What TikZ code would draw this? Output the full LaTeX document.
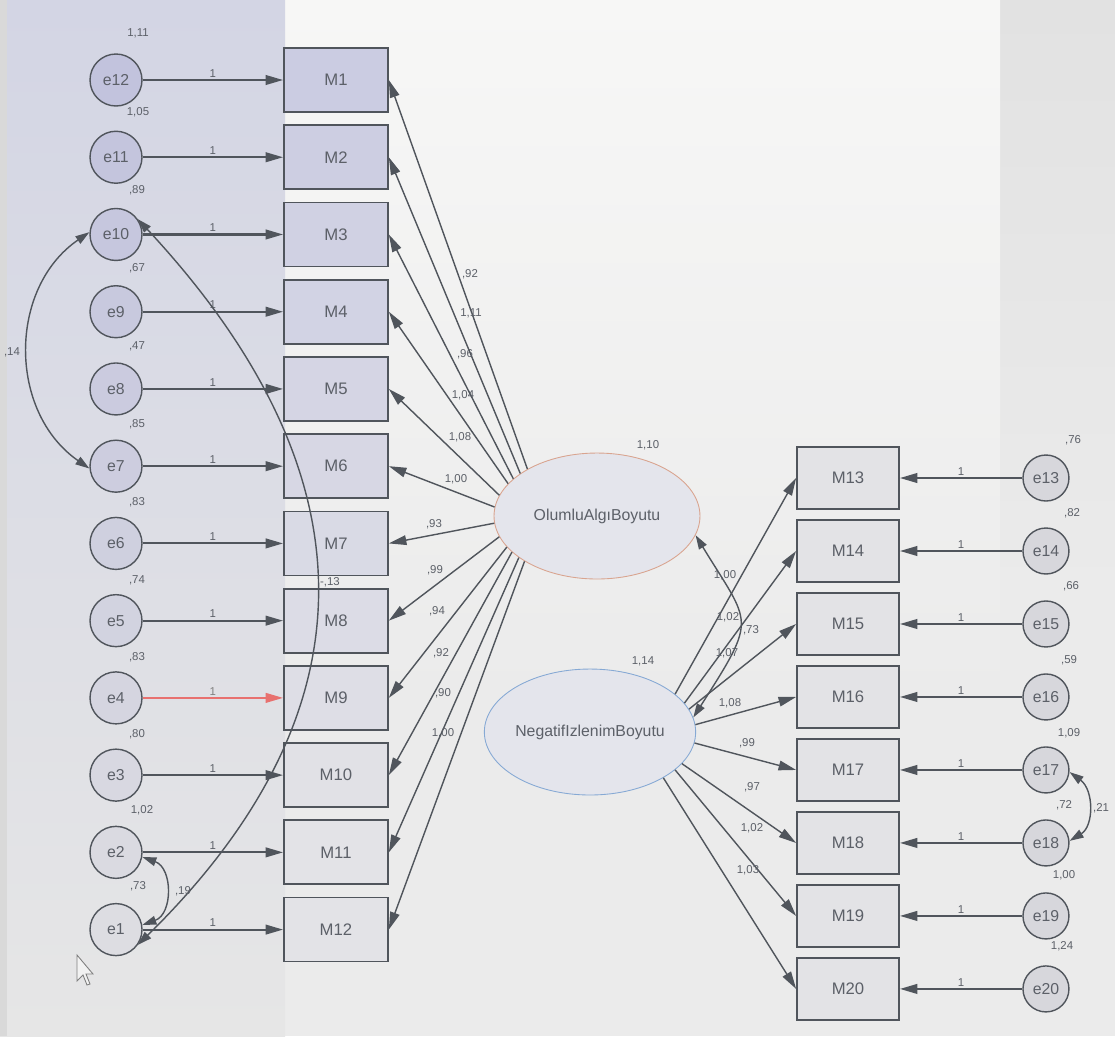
\documentclass[tikz,border=0pt]{standalone}
\usepackage{fontspec}
\setmainfont{Liberation Sans}
\usetikzlibrary{positioning}
\usetikzlibrary{arrows.meta}
\usetikzlibrary{shapes.geometric}
\definecolor{linegray}{HTML}{50555C}
\definecolor{txtgray}{HTML}{5C6068}
\definecolor{lav}{HTML}{C2C3DD}
\definecolor{pale}{HTML}{DDDDE2}
\definecolor{boxtop}{HTML}{CBCCE2}
\definecolor{boxbot}{HTML}{E3E3E7}
\definecolor{rfill}{HTML}{D7D7DC}
\definecolor{rbox}{HTML}{E3E3E6}
\definecolor{latfill}{HTML}{E4E5EC}
\definecolor{olborder}{HTML}{D9A48F}
\definecolor{negborder}{HTML}{86A9D4}
\definecolor{redline}{HTML}{E8716F}
\definecolor{bgbase}{HTML}{EBEBEB}
\definecolor{lefttop}{HTML}{D3D5E4}
\definecolor{leftbot}{HTML}{E6E6E6}
\definecolor{midtop}{HTML}{F7F7F6}
\definecolor{righttop}{HTML}{E2E2E2}
\tikzset {
  node distance={1.545cm},
  % error terms
  err/.style = {draw=linegray, line width=0.8pt, circle, minimum size=1.04cm, inner sep=0pt,
    fill=lav!#1!pale, font=\fontsize{9}{10}\selectfont},
  err/.default = 40,
  rerr/.style = {draw=linegray, line width=0.8pt, circle, minimum size=0.92cm, inner sep=0pt,
    fill=rfill, font=\fontsize{9}{10}\selectfont},
  % observed items
  obs/.style = {draw=linegray, line width=1pt, minimum width=2.08cm, minimum height=1.28cm,
    fill=boxtop!#1!boxbot, font=\fontsize{9.5}{11}\selectfont},
  obs/.default = 40,
  robs/.style = {draw=linegray, line width=1pt, minimum width=2.04cm, minimum height=1.24cm,
    fill=rbox, font=\fontsize{9.5}{11}\selectfont},
  % latent factors
  lat/.style = {ellipse, line width=0.5pt, fill=latfill, minimum width=4.12cm, minimum height=2.52cm,
    inner sep=0pt, font=\fontsize{9}{10}\selectfont},
  % estimates
  lbl/.style = {font=\fontsize{6.5}{7}\selectfont, inner sep=1pt},
  % paths
  fix/.style = {draw=linegray, line width=1.2pt, -{Triangle[length=10pt,width=5.5pt]}},
  load/.style = {draw=linegray, line width=0.8pt, -{Triangle[length=10pt,width=5.5pt]}},
  cov/.style = {draw=linegray, line width=0.8pt, {Triangle[length=8pt,width=5pt]}-{Triangle[length=8pt,width=5pt]}},
}
\begin{document}
\begin{tikzpicture}[x=0.02cm, y=-0.02cm, text=txtgray]
  \useasboundingbox (0,0) rectangle (1115,1036);
  % screen background
  \fill[bgbase] (0,0) rectangle (1115,1036);
  \shade[top color=righttop, bottom color=bgbase] (1000,0) rectangle (1115,600);
  \shade[top color=midtop, bottom color=bgbase] (285,0) rectangle (1000,700);
  \shade[top color=lefttop, bottom color=leftbot] (0,0) rectangle (285,1036);
  \fill[gray!30] (0,0) rectangle (7,1036);

  % left side
  \node[err=100] (e12) at (116,80) {e12};
  \node[err=92] (e11) [below of=e12] {e11};
  \node[err=84] (e10) [below of=e11] {e10};
  \node[err=76] (e9) [below of=e10] {e9};
  \node[err=68] (e8) [below of=e9] {e8};
  \node[err=60] (e7) [below of=e8] {e7};
  \node[err=50] (e6) [below of=e7] {e6};
  \node[err=40] (e5) [below of=e6] {e5};
  \node[err=30] (e4) [below of=e5] {e4};
  \node[err=20] (e3) [below of=e4] {e3};
  \node[err=10] (e2) [below of=e3] {e2};
  \node[err=0] (e1) [below of=e2] {e1};

  \node[obs=100] (m1) [right of=e12, node distance=4.4cm] {M1};
  \node[obs=90] (m2) [right of=e11, node distance=4.4cm] {M2};
  \node[obs=80] (m3) [right of=e10, node distance=4.4cm] {M3};
  \node[obs=70] (m4) [right of=e9, node distance=4.4cm] {M4};
  \node[obs=60] (m5) [right of=e8, node distance=4.4cm] {M5};
  \node[obs=50] (m6) [right of=e7, node distance=4.4cm] {M6};
  \node[obs=40] (m7) [right of=e6, node distance=4.4cm] {M7};
  \node[obs=30] (m8) [right of=e5, node distance=4.4cm] {M8};
  \node[obs=20] (m9) [right of=e4, node distance=4.4cm] {M9};
  \node[obs=10] (m10) [right of=e3, node distance=4.4cm] {M10};
  \node[obs=0] (m11) [right of=e2, node distance=4.4cm] {M11};
  \node[obs=0] (m12) [right of=e1, node distance=4.4cm] {M12};

  % factors
  \node[lat, draw=olborder] (olumlu) at (597,516) {OlumluAlgıBoyutu};
  \node[lat, draw=negborder] (negatif) at (590,732) {NegatifIzlenimBoyutu};

  % right side
  \node[robs] (m13) at (848,478) {M13};
  \node[robs] (m14) [below of=m13, node distance=1.46cm] {M14};
  \node[robs] (m15) [below of=m14, node distance=1.46cm] {M15};
  \node[robs] (m16) [below of=m15, node distance=1.46cm] {M16};
  \node[robs] (m17) [below of=m16, node distance=1.46cm] {M17};
  \node[robs] (m18) [below of=m17, node distance=1.46cm] {M18};
  \node[robs] (m19) [below of=m18, node distance=1.46cm] {M19};
  \node[robs] (m20) [below of=m19, node distance=1.46cm] {M20};

  \node[rerr] (e13) [right of=m13, node distance=3.96cm] {e13};
  \node[rerr] (e14) [right of=m14, node distance=3.96cm] {e14};
  \node[rerr] (e15) [right of=m15, node distance=3.96cm] {e15};
  \node[rerr] (e16) [right of=m16, node distance=3.96cm] {e16};
  \node[rerr] (e17) [right of=m17, node distance=3.96cm] {e17};
  \node[rerr] (e18) [right of=m18, node distance=3.96cm] {e18};
  \node[rerr] (e19) [right of=m19, node distance=3.96cm] {e19};
  \node[rerr] (e20) [right of=m20, node distance=3.96cm] {e20};

  % error paths
  \draw[fix] (e12) -- node[lbl, above] (f12) {1} (m1);
  \draw[fix] (e11) -- node[lbl, above] (f11) {1} (m2);
  \draw[fix] (e10) -- node[lbl, above] (f10) {1} (m3);
  \draw[fix] (e9) -- node[lbl, above] (f9) {1} (m4);
  \draw[fix] (e8) -- node[lbl, above] (f8) {1} (m5);
  \draw[fix] (e7) -- node[lbl, above] (f7) {1} (m6);
  \draw[fix] (e6) -- node[lbl, above] (f6) {1} (m7);
  \draw[fix] (e5) -- node[lbl, above] (f5) {1} (m8);
  \draw[fix, draw=redline] (e4) -- node[lbl, above, text=gray] (f4) {1} (m9);
  \draw[fix] (e3) -- node[lbl, above] (f3) {1} (m10);
  \draw[fix] (e2) -- node[lbl, above] (f2) {1} (m11);
  \draw[fix] (e1) -- node[lbl, above] (f1) {1} (m12);

  \draw[fix] (e13) -- node[lbl, above] (f13) {1} (m13);
  \draw[fix] (e14) -- node[lbl, above] (f14) {1} (m14);
  \draw[fix] (e15) -- node[lbl, above] (f15) {1} (m15);
  \draw[fix] (e16) -- node[lbl, above] (f16) {1} (m16);
  \draw[fix] (e17) -- node[lbl, above] (f17) {1} (m17);
  \draw[fix] (e18) -- node[lbl, above] (f18) {1} (m18);
  \draw[fix] (e19) -- node[lbl, above] (f19) {1} (m19);
  \draw[fix] (e20) -- node[lbl, above] (f20) {1} (m20);

  % loadings
  \draw[load] (olumlu.146) -- (m1.east);
  \draw[load] (olumlu.151) -- (m2.east);
  \draw[load] (olumlu.156) -- (m3.east);
  \draw[load] (olumlu.160) -- (m4.east);
  \draw[load] (olumlu.168) -- (m5.east);
  \draw[load] (olumlu.175) -- (m6.east);
  \draw[load] (olumlu.184) -- (m7.east);
  \draw[load] (olumlu.192) -- (m8.east);
  \draw[load] (olumlu.199) -- (m9.east);
  \draw[load] (olumlu.203) -- (m10.east);
  \draw[load] (olumlu.208) -- (m11.east);
  \draw[load] (olumlu.212) -- (m12.east);

  \draw[load] (negatif.24) -- (m13.west);
  \draw[load] (negatif.17) -- (m14.west);
  \draw[load] (negatif.13) -- (m15.west);
  \draw[load] (negatif.4) -- (m16.west);
  \draw[load] (negatif.-6) -- (m17.west);
  \draw[load] (negatif.-19) -- (m18.west);
  \draw[load] (negatif.-24) -- (m19.west);
  \draw[load] (negatif.-32) -- (m20.west);

  \node[lbl] (l1) at (470,274) {,92};
  \node[lbl] (l2) at (471,313) {1,11};
  \node[lbl] (l3) at (465,354) {,96};
  \node[lbl] (l4) at (463,395) {1,04};
  \node[lbl] (l5) at (460,437) {1,08};
  \node[lbl] (l6) at (456,479) {1,00};
  \node[lbl] (l7) at (434,524) {,93};
  \node[lbl] (l8) at (435,570) {,99};
  \node[lbl] (l9) at (437,611) {,94};
  \node[lbl] (l10) at (441,653) {,92};
  \node[lbl] (l11) at (443,693) {,90};
  \node[lbl] (l12) at (443,733) {1,00};

  \node[lbl] (l13) at (725,575) {1,00};
  \node[lbl] (l14) at (728,617) {1,02};
  \node[lbl] (l15) at (727,653) {1,07};
  \node[lbl] (l16) at (730,703) {1,08};
  \node[lbl] (l17) at (747,743) {,99};
  \node[lbl] (l18) at (752,787) {,97};
  \node[lbl] (l19) at (752,828) {1,02};
  \node[lbl] (l20) at (748,870) {1,03};

  % variances
  \node[lbl] (v12) at (138,33) {1,11};
  \node[lbl] (v11) at (138,112) {1,05};
  \node[lbl] (v10) at (137,190) {,89};
  \node[lbl] (v9) at (137,268) {,67};
  \node[lbl] (v8) at (137,346) {,47};
  \node[lbl] (v7) at (137,424) {,85};
  \node[lbl] (v6) at (137,502) {,83};
  \node[lbl] (v5) at (137,580) {,74};
  \node[lbl] (v4) at (137,657) {,83};
  \node[lbl] (v3) at (137,734) {,80};
  \node[lbl] (v2) at (142,810) {1,02};
  \node[lbl] (v1) at (138,886) {,73};

  \node[lbl] (v13) at (1073,440) {,76};
  \node[lbl] (v14) at (1072,513) {,82};
  \node[lbl] (v15) at (1071,586) {,66};
  \node[lbl] (v16) at (1069,660) {,59};
  \node[lbl] (v17) at (1069,733) {1,09};
  \node[lbl] (v18) at (1064,805) {,72};
  \node[lbl] (v19) at (1064,875) {1,00};
  \node[lbl] (v20) at (1062,946) {1,24};

  \node[lbl] (vol) at (648,445) {1,10};
  \node[lbl] (vneg) at (643,661) {1,14};

  % covariances
  \draw[cov] (e10.175) .. controls (8,288) and (8,412) .. (e7.185);
  \node[lbl] (c1) at (12,352) {,14};
  \draw[cov] (e10.35) .. controls (362,460) and (389,698) .. (e1.-35);
  \node[lbl] (c2) at (330,582) {-,13};
  \draw[cov] (e2.-10) .. controls (173,868) and (173,914) .. (e1.10);
  \node[lbl] (c3) at (183,891) {,19};
  \draw[cov] (olumlu.-11) .. controls (751,626) and (758,616) .. (negatif.8);
  \node[lbl] (c4) at (751,630) {,73};
  \draw[cov] (e17.-5) .. controls (1094,790) and (1094,826) .. (e18.5);
  \node[lbl] (c5) at (1101,808) {,21};

  % mouse pointer
  \draw[gray, line width=0.5pt, fill=white!90!gray] (77,955) -- (77,981) -- (83,975) -- (87,985)
    -- (90,984) -- (86,974) -- (93,974) -- cycle;
\end{tikzpicture}
\end{document}
